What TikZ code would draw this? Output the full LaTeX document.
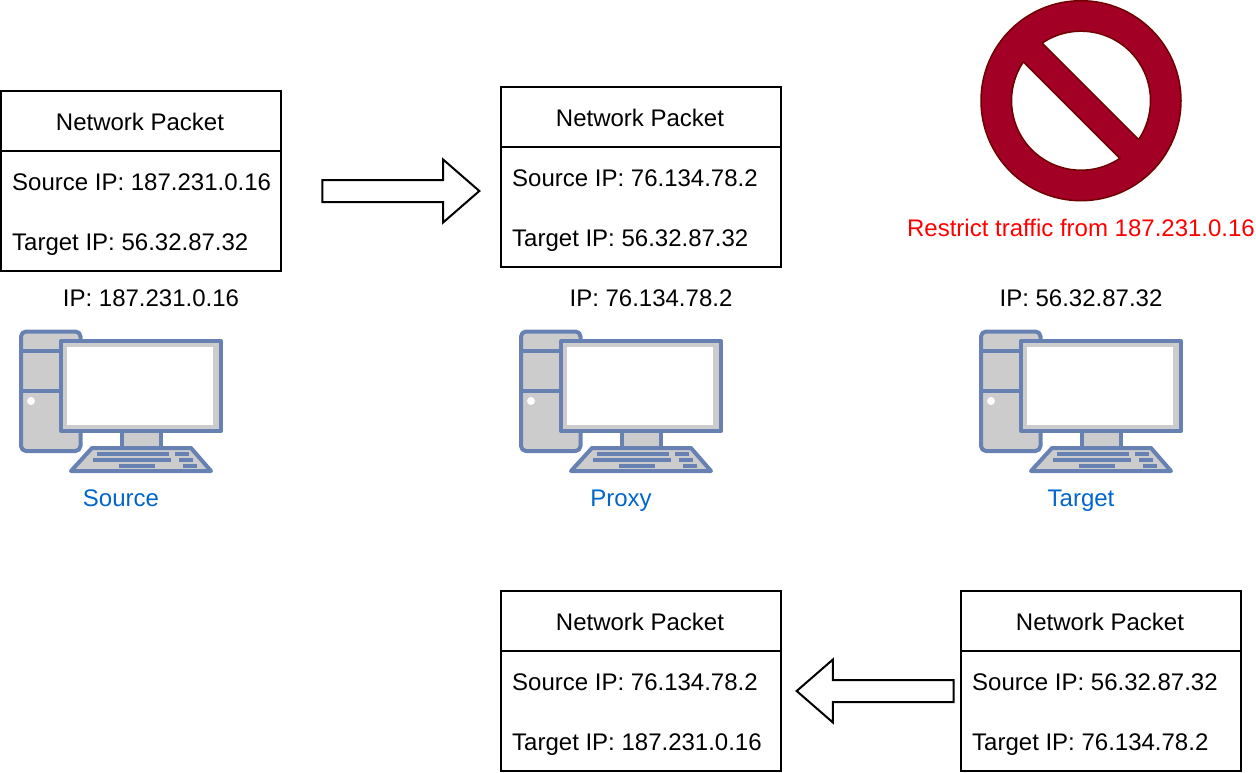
\documentclass[tikz,border=0pt]{standalone}
\usepackage{fontspec}
\setmainfont{Liberation Sans}
\usetikzlibrary{positioning,shapes.arrows}
\definecolor{iconblue}{HTML}{6881B3}
\definecolor{icongrey}{HTML}{CCCCCC}
\definecolor{labelblue}{HTML}{0066CC}
\definecolor{signred}{HTML}{A20025}
\definecolor{signedge}{HTML}{6F0000}
\newcommand{\packet}[5]{%
  \node[pkhead] (#1) at (#2,#3) {\hspace*{-2pt}Network Packet};
  \node[pkbody, below=0pt of #1] (#1body) {};
  \node[pkline] (#1src) at ([xshift=11pt,yshift=21pt]#1body.west) {Source IP: #4};
  \node[pkline] (#1tgt) at ([xshift=11pt,yshift=-39pt]#1body.west) {Target IP: #5};
}
\begin{document}
\begin{tikzpicture}[x=1pt,y=-1pt]
  \tikzset{
    every node/.style={font=\fontsize{24}{28}\selectfont},
    pkhead/.style={draw,line width=2pt,outer sep=0pt,anchor=north west,
      minimum width=280pt,minimum height=60pt,text height=19pt,text depth=0pt},
    pkbody/.style={draw,line width=2pt,outer sep=0pt,
      minimum width=280pt,minimum height=120pt},
    pkline/.style={inner sep=0pt,anchor=base west},
    iplabel/.style={inner sep=0pt},
    hostlabel/.style={inner sep=0pt,text=labelblue,text height=17pt,text depth=0pt},
    blockarrow/.style={shape=single arrow,draw,line width=2pt,fill=white,
      inner xsep=0pt,inner ysep=10pt,
      minimum height=157pt,minimum width=61pt,
      single arrow head extend=20.5pt,single arrow head indent=0pt,
      single arrow tip angle=82},
    signpart/.style={fill=white,draw=signedge,line width=1.5pt},
    iconline/.style={draw=iconblue,line width=4pt,line join=round},
    iconkey/.style={fill=iconblue},
    computer/.pic={
      \draw[iconline,fill=icongrey,rounded corners=5pt] (21,331.5) rectangle (80.5,451);
      \draw[iconline] (21,351) -- (61,351);
      \draw[iconline] (21,391) -- (61,391);
      \fill[white] (31,401) circle (4);
      \draw[iconline,fill=icongrey] (122,431) rectangle (161,449);
      \draw[iconline,fill=icongrey] (61,341) rectangle (221,431);
      \fill[white] (67,347) rectangle (213,425);
      \draw[iconline,fill=icongrey] (92,448) -- (191,448) -- (211,471) -- (71,471) -- cycle;
      \fill[iconkey] (97,452) rectangle (169,456);
      \fill[iconkey] (175,452) rectangle (189,456);
      \fill[iconkey] (93,458) rectangle (171,462);
      \fill[iconkey] (179,458) rectangle (193,462);
      \fill[iconkey] (119,464) rectangle (155,468);
      \fill[iconkey] (183,464) rectangle (197,468);
    },
  }
  \useasboundingbox (0,0) rectangle (1256,772);

  % packets
  \packet{pa}{1}{91}{187.231.0.16}{56.32.87.32}
  \packet{pb}{501}{87}{76.134.78.2}{56.32.87.32}
  \packet{pc}{501}{591}{76.134.78.2}{187.231.0.16}
  \packet{pd}{961}{591}{56.32.87.32}{76.134.78.2}

  % block arrows
  \node[blockarrow] (fwd) at (394.5,191) {};
  \node[blockarrow,shape border rotate=180] (back) at (881.5,691) {};

  % hosts
  \foreach \hostx/\hostname in {0/source,500/proxy,960/target}
    \pic (\hostname) at (\hostx,0) {computer};
  \node[iplabel] (ipsource) at (151,298) {IP: 187.231.0.16};
  \node[iplabel] (ipproxy)  at (651,298) {IP: 76.134.78.2};
  \node[iplabel] (iptarget) at (1081,298) {IP: 56.32.87.32};
  \node[hostlabel] (lsource) at (121,498) {Source};
  \node[hostlabel] (lproxy)  at (621,498) {Proxy};
  \node[hostlabel] (ltarget) at (1081,498) {Target};

  % restriction sign
  \fill[signred,draw=signedge,line width=1.5pt] (1081,100.7) circle (100);
  \draw[signpart] (1081,100.7) ++(-124:69.5) arc[start angle=-124,end angle=34,radius=69.5] -- cycle;
  \draw[signpart] (1081,100.7) ++(56:69.5) arc[start angle=56,end angle=214,radius=69.5] -- cycle;
  \node[inner sep=0pt,text=red] (restrict) at (1081,228) {Restrict traffic from 187.231.0.16};
\end{tikzpicture}
\end{document}
